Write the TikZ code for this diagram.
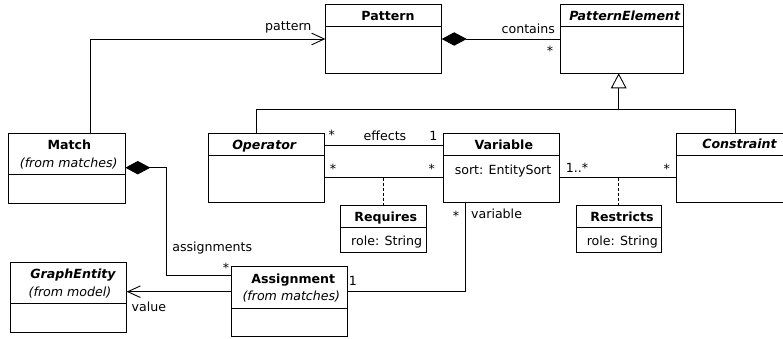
\documentclass[tikz,border=0pt]{standalone}
\usepackage{fontspec}
\setmainfont{DejaVu Sans}
\usetikzlibrary{arrows.meta}
\begin{document}
\begin{tikzpicture}[x=1pt,y=-1pt,line width=0.9pt,
  box/.style={draw,rectangle,inner sep=0pt,outer sep=0pt,anchor=north west},
  lbl/.style={inner sep=0pt,anchor=base,font=\fontsize{12.6}{14}\selectfont},
  ttl/.style={lbl,font=\fontsize{12.6}{14}\selectfont\bfseries},
  ttli/.style={lbl,font=\fontsize{12.6}{14}\selectfont\bfseries\itshape},
  sub/.style={lbl,font=\fontsize{12.6}{14}\selectfont\itshape},
  assoctip/.style={-{Straight Barb[length=12.6pt,width=11.6pt]}},
  comptip/.style={{Diamond[length=25pt,width=13.4pt]}-},
  gentip/.style={-{Triangle[open,length=15pt,width=15.6pt]}},
  dashline/.style={dash pattern=on 3pt off 2pt}]
\useasboundingbox (0,0) rectangle (783,339);
\clip (0,0) rectangle (783,339);

% ---- boxes ----
\node[box,minimum width=116.4pt,minimum height=69pt] (pattern) at (325.3,4.3) {};
\node[box,minimum width=123.4pt,minimum height=69pt] (pe) at (560.3,4.3) {};
\node[box,minimum width=116pt,minimum height=69.4pt] (operator) at (208.3,133.3) {};
\node[box,minimum width=116.3pt,minimum height=69.4pt] (variable) at (443,133.3) {};
\node[box,minimum width=130pt,minimum height=69.4pt] (constraint) at (676.7,133.3) {};
\node[box,minimum width=117pt,minimum height=70pt] (match) at (8.3,133.3) {};
\node[box,minimum width=86pt,minimum height=47.4pt] (requires) at (340,205.3) {};
\node[box,minimum width=85.7pt,minimum height=47.4pt] (restricts) at (576,205.3) {};
\node[box,minimum width=116pt,minimum height=70pt] (graphentity) at (10.7,262.7) {};
\node[box,minimum width=116pt,minimum height=70pt] (assignment) at (231.7,266.7) {};

% ---- dividers ----
\draw (pattern.west |- 0,26) -- (pattern.east |- 0,26);
\draw (pe.west |- 0,26) -- (pe.east |- 0,26);
\draw (operator.west |- 0,155.3) -- (operator.east |- 0,155.3);
\draw (variable.west |- 0,155.3) -- (variable.east |- 0,155.3);
\draw (constraint.west |- 0,155.3) -- (constraint.east |- 0,155.3);
\draw (match.west |- 0,174.3) -- (match.east |- 0,174.3);
\draw (requires.west |- 0,227.7) -- (requires.east |- 0,227.7);
\draw (restricts.west |- 0,227.7) -- (restricts.east |- 0,227.7);
\draw (graphentity.west |- 0,303.3) -- (graphentity.east |- 0,303.3);
\draw (assignment.west |- 0,308.3) -- (assignment.east |- 0,308.3);

% ---- titles & attributes ----
\node[ttl] (patternT) at (388,20.5) {Pattern};
\node[ttli] (peT) at (624.7,20.5) {PatternElement};
\node[ttli] (operatorT) at (264.2,149.7) {Operator};
\node[ttl] (variableT) at (503.8,149.7) {Variable};
\node[lbl,anchor=base west] (variableA) at (454.3,174) {sort: EntitySort};
\node[ttli] (constraintT) at (739.5,149) {Constraint};
\node[ttl] (matchT) at (69.3,149.4) {Match};
\node[sub] (matchS) at (68.7,167.3) {(from matches)};
\node[ttl] (requiresT) at (385.8,221.7) {Requires};
\node[lbl] (requiresA) at (386.7,245) {role: String};
\node[ttl] (restrictsT) at (622,221.7) {Restricts};
\node[lbl] (restrictsA) at (622.3,245) {role: String};
\node[ttli] (graphentityT) at (73,278.3) {GraphEntity};
\node[sub] (graphentityS) at (70,296.7) {(from model)};
\node[ttl] (assignmentT) at (293.3,283.3) {Assignment};
\node[sub] (assignmentS) at (291.3,300.7) {(from matches)};

% ---- connectors ----
% Match -> Pattern
\draw[assoctip] (match.north -| 90.7,0) |- (pattern.west |- 0,39);
\node[lbl] (lpattern) at (288.3,30.7) {pattern};
% Pattern <>-- PatternElement
\draw[comptip] (pattern.east |- 0,39) -- (pe.west |- 0,39);
\node[lbl] (lcontains) at (528.3,33.3) {contains};
\node[lbl] (mcontains) at (550,56) {*};
% generalization
\coordinate (gen) at (618.7,109);
\draw[gentip] (gen) -- (pe.south -| 618.7,0);
\draw (operator.north -| 256.7,0) |- (gen);
\draw (gen) -| (constraint.north -| 735.3,0);
\draw (variable.north -| 513.3,0) -- (variable.north -| 513.3,109);
% Operator -- Variable (effects)
\draw (operator.east |- 0,145.7) -- (variable.west |- 0,145.7);
\node[lbl] (meff1) at (331.7,139.5) {*};
\node[lbl] (leffects) at (385,140.7) {effects};
\node[lbl] (meff2) at (433.3,140.7) {1};
% Operator -- Variable (requires)
\draw (operator.east |- 0,177.7) -- (variable.west |- 0,177.7);
\coordinate (reqpt) at (383.3,177.7);
\draw[dashline] (reqpt) -- (requires.north -| reqpt);
\node[lbl] (mreq1) at (333,173) {*};
\node[lbl] (mreq2) at (431.7,173) {*};
% Variable -- Constraint (restricts)
\draw (variable.east |- 0,177.7) -- (constraint.west |- 0,177.7);
\coordinate (respt) at (618.7,177.7);
\draw[dashline] (respt) -- (restricts.north -| respt);
\node[lbl] (mres1) at (577,172) {1..*};
\node[lbl] (mres2) at (666.7,173) {*};
% Match <>-- Assignment
\draw[comptip] (match.east |- 0,167.7) -| (166.7,275.7) -- (assignment.west |- 0,275.7);
\node[lbl] (lassign) at (212.3,251.7) {assignments};
\node[lbl] (massign) at (226,272) {*};
% Assignment -> GraphEntity
\draw[assoctip] (assignment.west |- 0,291.7) -- (graphentity.east |- 0,291.7);
\node[lbl] (lvalue) at (148.8,311) {value};
% Assignment -- Variable
\draw (assignment.east |- 0,291.7) -| (variable.south -| 465.3,0);
\node[lbl] (mvar1) at (353,285) {1};
\node[lbl] (mvar2) at (456,220) {*};
\node[lbl,anchor=base west] (lvariable) at (470.7,218.3) {variable};
\end{tikzpicture}
\end{document}
